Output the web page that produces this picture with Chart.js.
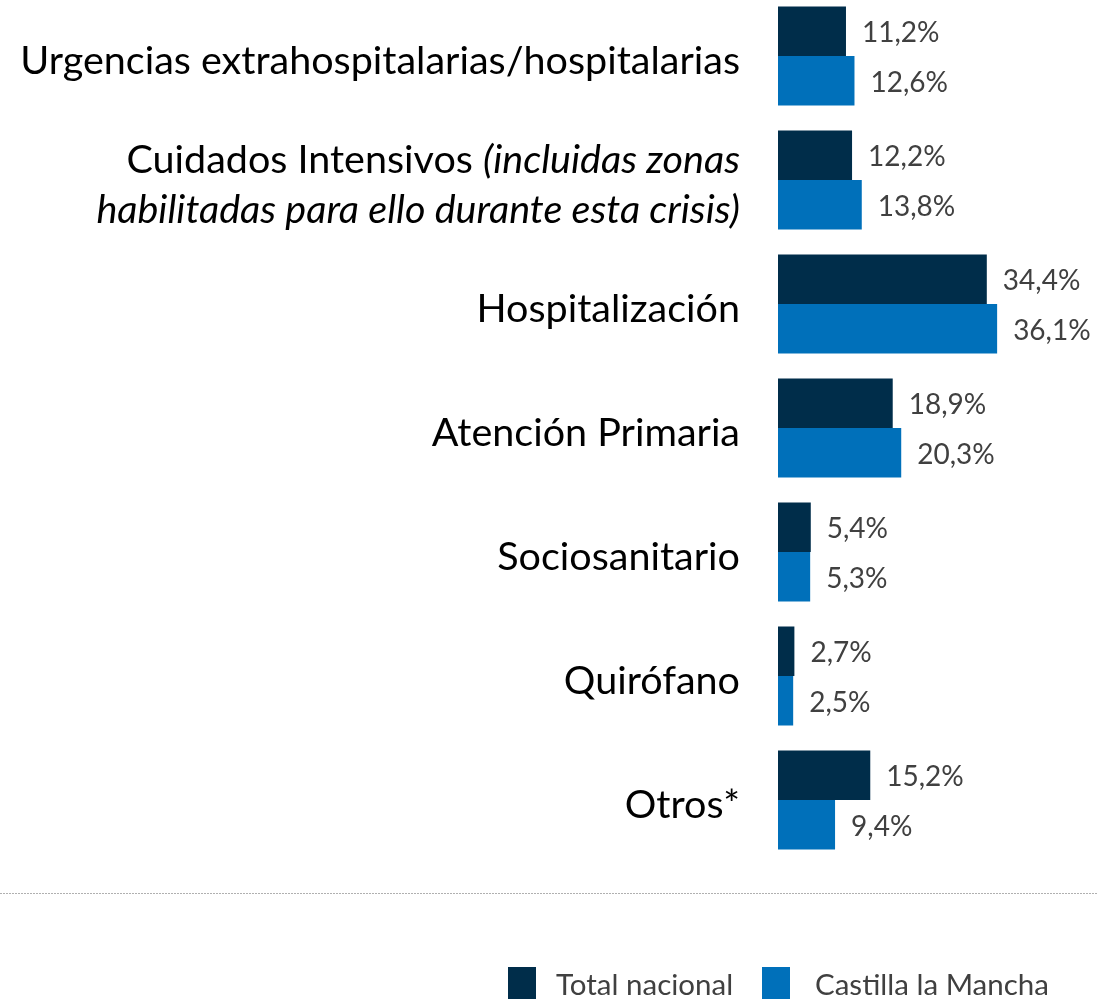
<!doctype html>
<html lang="es">
  <head>
    <meta charset="UTF-8" />
    <title>Distribución por ámbito</title>
    <style>
      html, body { margin: 0; padding: 0; background: #fff; overflow: hidden; }
      .caja { position: absolute; left: 0; top: -6px; width: 1097px; height: 1005px; }
    </style>
  </head>
  <body>
    <div class="caja"><canvas id="grafico" width="1097" height="1005"></canvas></div>

    <script src="https://cdn.jsdelivr.net/npm/chart.js"></script>
    <script>
      // Categorías (cada una es una lista de trozos: [texto, cursiva])
      var categorias = [
        "Urgencias extrahospitalarias/hospitalarias",
        "Cuidados Intensivos",
        "Hospitalización",
        "Atención Primaria",
        "Sociosanitario",
        "Quirófano",
        "Otros*"
      ];
      var etiquetasLineas = [
        [[["Urgencias extrahospitalarias/hospitalarias", false]]],
        [[["Cuidados Intensivos ", false], ["(incluidas zonas", true]],
         [["habilitadas para ello durante esta crisis)", true]]],
        [[["Hospitalización", false]]],
        [[["Atención Primaria", false]]],
        [[["Sociosanitario", false]]],
        [[["Quirófano", false]]],
        [[["Otros*", false]]]
      ];
      var totalNacional = [11.2, 12.2, 34.4, 18.9, 5.4, 2.7, 15.2];
      var castillaLaMancha = [12.6, 13.8, 36.1, 20.3, 5.3, 2.5, 9.4];

      var colorOscuro = "#002D4A";
      var colorAzul = "#0070BA";
      var fuente = "Lato, 'Open Sans', sans-serif";

      function formato(v) {
        return v.toFixed(1).replace(".", ",") + "%";
      }

      // Etiquetas de categoría, valores, línea punteada y leyenda
      var dibujoExtra = {
        id: "dibujoExtra",
        afterDatasetsDraw: function (chart) {
          var ctx = chart.ctx;
          var yScale = chart.scales.y;
          ctx.save();

          // valores al final de cada barra
          ctx.fillStyle = "#404040";
          ctx.font = "28px " + fuente;
          ctx.textAlign = "left";
          ctx.textBaseline = "middle";
          chart.data.datasets.forEach(function (ds, i) {
            chart.getDatasetMeta(i).data.forEach(function (bar, j) {
              ctx.fillText(formato(ds.data[j]), bar.x + 16, bar.y + 2);
            });
          });

          // etiquetas de categoría a la izquierda
          ctx.fillStyle = "#000";
          ctx.textBaseline = "middle";
          etiquetasLineas.forEach(function (lineas, j) {
            var yc = yScale.getPixelForValue(j) + 5;
            var alto = 50;
            var y0 = yc - (lineas.length - 1) * alto / 2;
            lineas.forEach(function (trozos, k) {
              var anchos = trozos.map(function (t) {
                ctx.font = (t[1] ? "italic " : "") + "39.5px " + fuente;
                return ctx.measureText(t[0]).width;
              });
              var total = anchos.reduce(function (a, b) { return a + b; }, 0);
              var x = 740 - total;
              trozos.forEach(function (t, n) {
                ctx.font = (t[1] ? "italic " : "") + "39.5px " + fuente;
                ctx.textAlign = "left";
                ctx.fillText(t[0], x, y0 + k * alto);
                x += anchos[n];
              });
            });
          });

          // línea punteada
          ctx.strokeStyle = "#b0b0b0";
          ctx.lineWidth = 1;
          ctx.setLineDash([2, 1]);
          ctx.beginPath();
          ctx.moveTo(0, 899.5);
          ctx.lineTo(chart.width, 899.5);
          ctx.stroke();
          ctx.setLineDash([]);

          // leyenda
          var posiciones = [[508, 556], [762, 815]];
          ctx.font = "29.5px " + fuente;
          ctx.textBaseline = "middle";
          chart.data.datasets.forEach(function (ds, i) {
            ctx.fillStyle = ds.backgroundColor;
            ctx.fillRect(posiciones[i][0], 973, 28, 32);
            ctx.fillStyle = "#404040";
            ctx.fillText(ds.label, posiciones[i][1], 991);
          });
          ctx.restore();
        }
      };

      var ctx = document.getElementById("grafico").getContext("2d");
      new Chart(ctx, {
        type: "bar",
        data: {
          labels: categorias,
          datasets: [
            {
              label: "Total nacional",
              data: totalNacional,
              backgroundColor: colorOscuro,
              categoryPercentage: 0.8,
              barPercentage: 1.0
            },
            {
              label: "Castilla la Mancha",
              data: castillaLaMancha,
              backgroundColor: colorAzul,
              categoryPercentage: 0.8,
              barPercentage: 1.0
            }
          ]
        },
        options: {
          indexAxis: "y",
          responsive: false,
          animation: false,
          devicePixelRatio: 1,
          layout: { padding: { left: 778, right: 15.5, top: 0, bottom: 137 } },
          scales: {
            x: { display: false, min: 0, max: 50 },
            y: { display: false }
          },
          plugins: {
            legend: { display: false },
            tooltip: { enabled: false }
          }
        },
        plugins: [dibujoExtra]
      });
    </script>
  </body>
</html>
